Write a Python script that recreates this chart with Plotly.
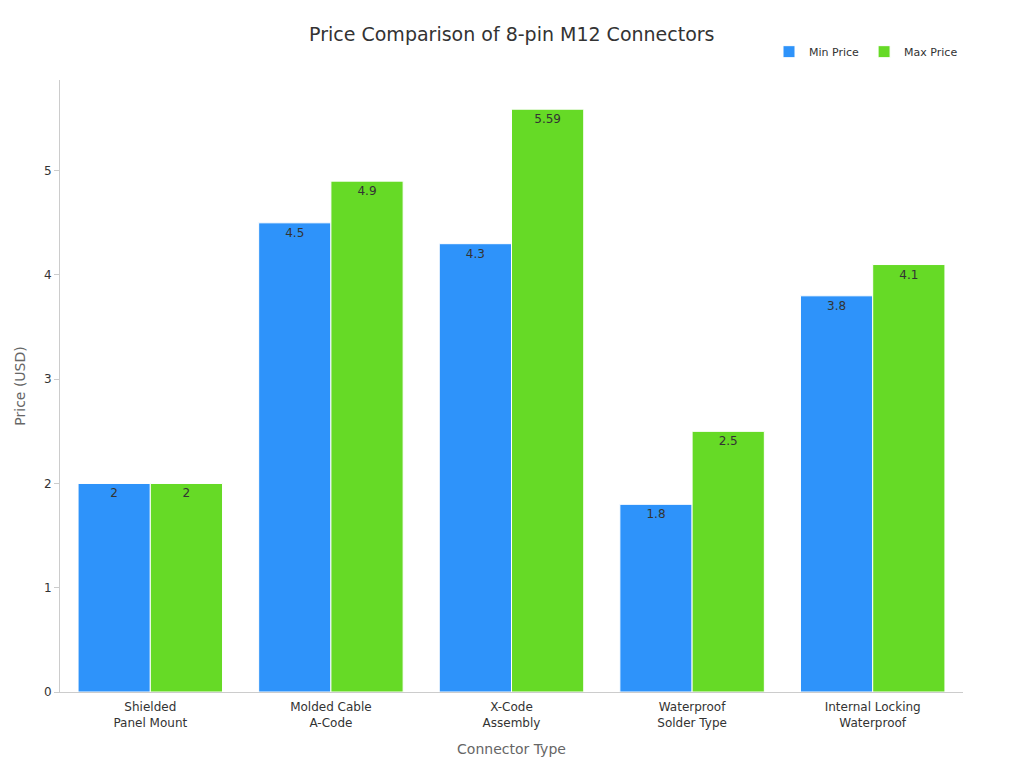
import plotly.graph_objects as go

categories = ["Shielded<br>Panel Mount", "Molded Cable<br>A-Code", "X-Code<br>Assembly", "Waterproof<br>Solder Type", "Internal Locking<br>Waterproof"]
min_price = [2, 4.5, 4.3, 1.8, 3.8]
max_price = [2, 4.9, 5.59, 2.5, 4.1]

fig = go.Figure()
for name, vals, col in [("Min Price", min_price, "#2E93FA"), ("Max Price", max_price, "#66DA26")]:
    fig.add_trace(go.Bar(x=categories, y=vals, name=name, marker=dict(color=col, line=dict(color="white", width=1)),
                         text=[str(v) for v in vals], textposition="inside", insidetextanchor="end",
                         textfont=dict(color="#333333", size=12), textangle=0))

fig.update_layout(
    width=1024, height=768, template="plotly_white",
    font=dict(family="DejaVu Sans", color="#333"),
    title=dict(text="Price Comparison of 8-pin M12 Connectors", x=0.492, y=0.975, xanchor="center", font=dict(size=19, color="#333")),
    margin=dict(l=52, r=69, t=72, b=84),
    bargap=0.2, bargroupgap=0,
    legend=dict(orientation="h", x=1, xanchor="right", y=1.07, yanchor="top", font=dict(size=11)),
    xaxis=dict(title=dict(text="Connector Type", font=dict(size=14, color="#666")), showline=True, linecolor="#ccc", showgrid=False,
               tickfont=dict(size=12), ticks="outside", ticklen=4, tickcolor="rgba(0,0,0,0)"),
    yaxis=dict(title=dict(text="Price (USD)", font=dict(size=14, color="#666")), range=[0, 5.87], dtick=1, showline=True, linecolor="#ccc",
               showgrid=False, ticks="outside", tickcolor="#ccc", zeroline=False, tickfont=dict(size=12)),
    plot_bgcolor="white",
)
fig.write_html("out.html")
